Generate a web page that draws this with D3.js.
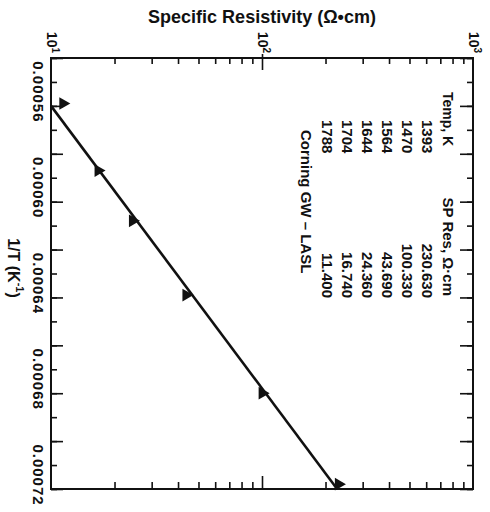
<!DOCTYPE html>
<html>
<head>
<meta charset="utf-8">
<script src="https://d3js.org/d3.v7.min.js"></script>
<style>
  body { margin: 0; background: #fff; }
  svg text { font-family: "Liberation Sans", Arial, sans-serif; fill: #111; }
</style>
</head>
<body>
<div id="chart"></div>
<script>

// data
var tempK = [1393, 1470, 1564, 1644, 1704, 1788];
var spRes = [230.630, 100.330, 43.690, 24.360, 16.740, 11.400];
var spResText = ["230.630", "100.330", "43.690", "24.360", "16.740", "11.400"];
var invT = [0.000718, 0.000680, 0.000639, 0.000608, 0.000587, 0.000559];

// fitted line end points
var fitRes = [10, 227];
var fitInvT = [0.000560, 0.000720];

var invTTicks = [0.00056, 0.00060, 0.00064, 0.00068, 0.00072];
var invTLabels = ["0.00056", "0.00060", "0.00064", "0.00068", "0.00072"];
var resDecades = [10, 100, 1000];
var resExp = ["1", "2", "3"];

var W = 490, H = 512;
var pLeft = 51, pRight = 473, pTop = 58, pBottom = 489;

var svg = d3.select("#chart").append("svg")
    .attr("width", W)
    .attr("height", H);

// resistivity runs left to right, 1/T runs top to bottom (figure is rotated)
var x = d3.scaleLog().domain([10, 1000]).range([pLeft, pRight]);
var y = d3.scaleLinear().domain([0.00054, 0.00072]).range([pTop, pBottom]);

var minorRes = [];
[10, 100].forEach(function(d) {
  for (var k = 2; k < 10; k++) minorRes.push(d * k);
});
var minorT = d3.range(0, 19).map(function(i) { return 0.00054 + i * 0.00001; });
var majorT = minorT.filter(function(d, i) { return i % 2 == 0; });

function styleAxis(g) {
  g.select(".domain").remove();
  g.selectAll("line").attr("stroke", "#111").attr("stroke-width", 1.6);
}

// top edge ticks (pointing down into the plot)
svg.append("g").attr("transform", "translate(0," + pTop + ")")
  .call(d3.axisBottom(x).tickValues(minorRes).tickSize(6).tickFormat(""))
  .call(styleAxis);
svg.append("g").attr("transform", "translate(0," + (pTop - 4) + ")")
  .call(d3.axisBottom(x).tickValues([100]).tickSize(16).tickFormat(""))
  .call(styleAxis);

// bottom edge ticks (pointing up)
svg.append("g").attr("transform", "translate(0," + pBottom + ")")
  .call(d3.axisTop(x).tickValues(minorRes).tickSize(7).tickFormat(""))
  .call(styleAxis);
svg.append("g").attr("transform", "translate(0," + pBottom + ")")
  .call(d3.axisTop(x).tickValues([100]).tickSize(13).tickFormat(""))
  .call(styleAxis);

// left edge ticks
svg.append("g").attr("transform", "translate(" + pLeft + ",0)")
  .call(d3.axisRight(y).tickValues(minorT).tickSize(6).tickFormat(""))
  .call(styleAxis);
svg.append("g").attr("transform", "translate(" + pLeft + ",0)")
  .call(d3.axisRight(y).tickValues(majorT).tickSize(12).tickFormat(""))
  .call(styleAxis);

// right edge ticks
svg.append("g").attr("transform", "translate(" + pRight + ",0)")
  .call(d3.axisLeft(y).tickValues(minorT).tickSize(6).tickFormat(""))
  .call(styleAxis);
svg.append("g").attr("transform", "translate(" + pRight + ",0)")
  .call(d3.axisLeft(y).tickValues(majorT).tickSize(13).tickFormat(""))
  .call(styleAxis);

// frame
svg.append("rect")
  .attr("x", pLeft).attr("y", pTop)
  .attr("width", pRight - pLeft).attr("height", pBottom - pTop)
  .attr("fill", "none").attr("stroke", "#111").attr("stroke-width", 2);

// decade labels, rotated
resDecades.forEach(function(d, i) {
  var t = svg.append("text")
    .attr("transform", "translate(" + (x(d) - 4) + "," + (pTop - 5) + ") rotate(90)")
    .attr("text-anchor", "end")
    .style("font-size", "14px").style("font-weight", "bold");
  t.append("tspan").text("10");
  t.append("tspan").attr("baseline-shift", "super").style("font-size", "10px").text(resExp[i]);
});

// 1/T tick labels (sit a little above their ticks in the scan)
invTTicks.forEach(function(d, i) {
  svg.append("text")
    .attr("transform", "translate(38," + (y(d) - 14) + ") rotate(90)")
    .attr("text-anchor", "middle")
    .attr("dominant-baseline", "central")
    .style("font-size", "15px").style("font-weight", "bold")
    .style("letter-spacing", "1px")
    .text(invTLabels[i]);
});

// axis titles
svg.append("text")
  .attr("x", x(100)).attr("y", 23)
  .attr("text-anchor", "middle")
  .style("font-size", "18px").style("font-weight", "bold")
  .text("Specific Resistivity (\u03A9\u2022cm)");

var at = svg.append("text")
  .attr("transform", "translate(14,268) rotate(90)")
  .attr("text-anchor", "middle")
  .attr("dominant-baseline", "central")
  .style("font-size", "16px").style("font-weight", "bold");
at.append("tspan").text("1/T (K");
at.append("tspan").attr("baseline-shift", "super").style("font-size", "11px").text("-1");
at.append("tspan").text(")");

// fitted line
svg.append("path")
  .datum(d3.zip(fitRes, fitInvT))
  .attr("d", d3.line().x(function(d) { return x(d[0]); }).y(function(d) { return y(d[1]); }))
  .attr("fill", "none").attr("stroke", "#111").attr("stroke-width", 2.6);

// data points: triangles (pointing right after rotation)
svg.selectAll(".pt")
  .data(d3.zip(spRes, invT))
  .enter().append("path")
  .attr("class", "pt")
  .attr("transform", function(d) { return "translate(" + x(d[0]) + "," + y(d[1]) + ") rotate(90)"; })
  .attr("d", d3.symbol().type(d3.symbolTriangle).size(70))
  .attr("fill", "#111");

// table of values, rotated
var rowX = [448, 427, 407, 387, 367, 347, 327];
function rot(xp, yp, anchor, txt) {
  return svg.append("text")
    .attr("transform", "translate(" + xp + "," + yp + ") rotate(90)")
    .attr("text-anchor", anchor)
    .attr("dominant-baseline", "central")
    .style("font-size", "15px").style("font-weight", "bold")
    .text(txt);
}
rot(rowX[0], 92, "start", "Temp, K").style("font-size", "14px");
rot(rowX[0], 296, "end", "SP Res,  \u03A9\u00B7cm");
tempK.forEach(function(d, i) {
  rot(rowX[i + 1], 120, "start", String(d));
  rot(rowX[i + 1], 298, "end", spResText[i]);
});
rot(306, 130, "start", "Corning GW \u2013 LASL");

</script>
</body>
</html>
